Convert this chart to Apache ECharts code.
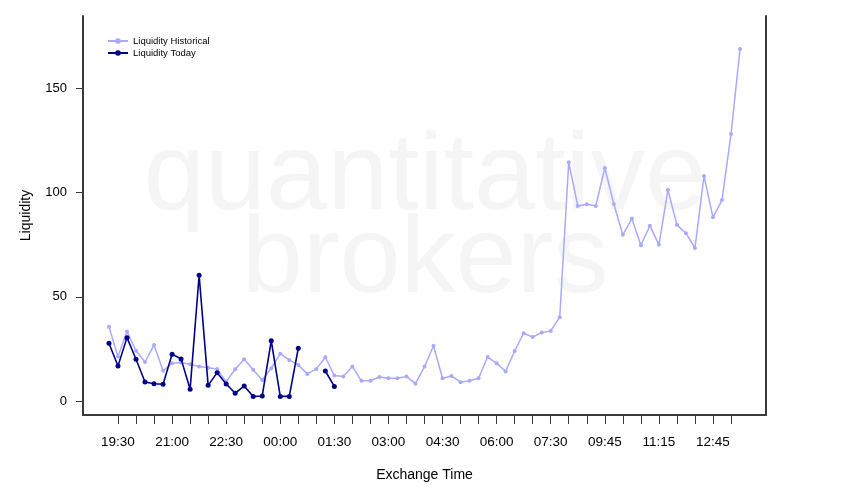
<!DOCTYPE html>
<html>
<head>
<meta charset="utf-8">
<title>Liquidity</title>
<script src="https://cdn.jsdelivr.net/npm/echarts@6/dist/echarts.min.js"></script>
<style>
  html, body { margin: 0; padding: 0; background: #fff; }
  #chart { width: 850px; height: 500px; }
</style>
</head>
<body>
<div id="chart"></div>
<script>
// 15 minute slots, first slot is 19:15 (slot 1 on the axis)
var historical = [
  35.6, 21.3, 33.3, 24.1, 18.7, 26.9, 14.5, 18.1, 18.5, 17.6,
  16.5, 16.0, 15.3, 9.3, 15.2, 20.0, 15.0, 10.1, 15.7, 22.7,
  19.7, 17.3, 13.0, 15.4, 21.0, 12.2, 11.7, 16.6, 9.7, 9.7,
  11.5, 10.9, 10.9, 11.8, 8.3, 16.5, 26.5, 10.9, 12.0, 9.0,
  9.7, 10.9, 21.1, 18.1, 14.2, 24.0, 32.5, 30.7, 32.8, 33.6,
  40.2, 114.5, 93.6, 94.4, 93.6, 111.8, 94.5, 79.7, 87.5, 74.7,
  84.1, 74.9, 101.2, 84.5, 80.5, 73.4, 108.0, 88.1, 96.4, 128.1,
  168.9
];
var today = [
  27.7, 16.8, 30.4, 20.0, 9.1, 8.3, 8.0, 22.4, 20.2, 5.6,
  60.3, 7.5, 13.6, 8.2, 3.7, 7.2, 2.2, 2.4, 28.9, 2.2,
  2.2, 25.3, null, null, 14.4, 7.0
];
var timeLabels = ['19:30', '21:00', '22:30', '00:00', '01:30', '03:00',
  '04:30', '06:00', '07:30', '09:45', '11:15', '12:45'];
var yTicks = [0, 50, 100, 150];

// ticks every 2 slots (30 min), labels every 6 slots
var tickSlots = [];
for (var s = 2; s <= 70; s += 2) tickSlots.push(s);
var labelSlots = timeLabels.map(function (t, k) { return 2 + 6 * k; });

function toPoints(arr) {
  return arr.map(function (v, i) {
    return [i + 1, v == null ? '-' : v];
  });
}

var font = 'Liberation Sans, Arial, Helvetica, sans-serif';
var axisColor = '#3a3a3a';

var chart = echarts.init(document.getElementById('chart'));
var option = {
  animation: false,
  grid: { left: 83, right: 84, top: 16, bottom: 85, containLabel: false },
  // watermark
  graphic: [
    {
      type: 'text', left: 'center', top: 124, z: -10, silent: true,
      style: { text: 'quantitative', font: '110px ' + font, fill: '#f5f5f5' }
    },
    {
      type: 'text', left: 'center', top: 207, z: -10, silent: true,
      style: { text: 'brokers', font: '110px ' + font, fill: '#f5f5f5' }
    }
  ],
  legend: {
    orient: 'vertical',
    left: 107,
    top: 36,
    padding: 0,
    itemGap: 2,
    itemWidth: 20,
    itemHeight: 7,
    textStyle: { fontSize: 9.5, fontFamily: font, color: '#000' },
    data: ['Liquidity Historical', 'Liquidity Today']
  },
  xAxis: {
    type: 'value',
    min: -1.88,
    max: 73.88,
    name: 'Exchange Time',
    nameLocation: 'middle',
    nameGap: 53,
    nameTextStyle: { fontSize: 14, fontFamily: font, color: '#000' },
    splitLine: { show: false },
    axisLine: { show: true, onZero: false, lineStyle: { color: axisColor, width: 2 } },
    axisTick: {
      show: true, length: 9, customValues: tickSlots,
      lineStyle: { color: axisColor, width: 1 }
    },
    axisLabel: {
      customValues: labelSlots,
      margin: 20,
      fontSize: 13.5,
      fontFamily: font,
      color: '#000',
      formatter: function (v) {
        var k = labelSlots.indexOf(v);
        return k >= 0 ? timeLabels[k] : '';
      }
    }
  },
  yAxis: [
    {
      type: 'value',
      min: -6.72,
      max: 184.7,
      name: 'Liquidity',
      nameLocation: 'middle',
      nameGap: 50,
      nameTextStyle: { fontSize: 14, fontFamily: font, color: '#000' },
      splitLine: { show: false },
      axisLine: { show: true, onZero: false, lineStyle: { color: axisColor, width: 2 } },
      axisTick: {
        show: true, length: 7, customValues: yTicks,
        lineStyle: { color: axisColor, width: 1 }
      },
      axisLabel: {
        customValues: yTicks,
        margin: 16,
        fontSize: 13,
        fontFamily: font,
        color: '#000'
      }
    },
    {
      // right border line
      type: 'value',
      position: 'right',
      min: -6.72,
      max: 184.7,
      splitLine: { show: false },
      axisLine: { show: true, onZero: false, lineStyle: { color: axisColor, width: 2 } },
      axisTick: { show: false },
      axisLabel: { show: false }
    }
  ],
  series: [
    {
      name: 'Liquidity Historical',
      type: 'line',
      data: toPoints(historical),
      symbol: 'circle',
      symbolSize: 4,
      color: '#a9a9ff',
      lineStyle: { width: 1.5, color: '#a9a9ff' },
      itemStyle: { color: '#a9a9ff' },
      z: 2
    },
    {
      name: 'Liquidity Today',
      type: 'line',
      data: toPoints(today),
      connectNulls: false,
      symbol: 'circle',
      symbolSize: 5,
      color: '#00008b',
      lineStyle: { width: 1.6, color: '#00008b' },
      itemStyle: { color: '#00008b' },
      z: 3
    }
  ]
};
chart.setOption(option);
</script>
</body>
</html>
